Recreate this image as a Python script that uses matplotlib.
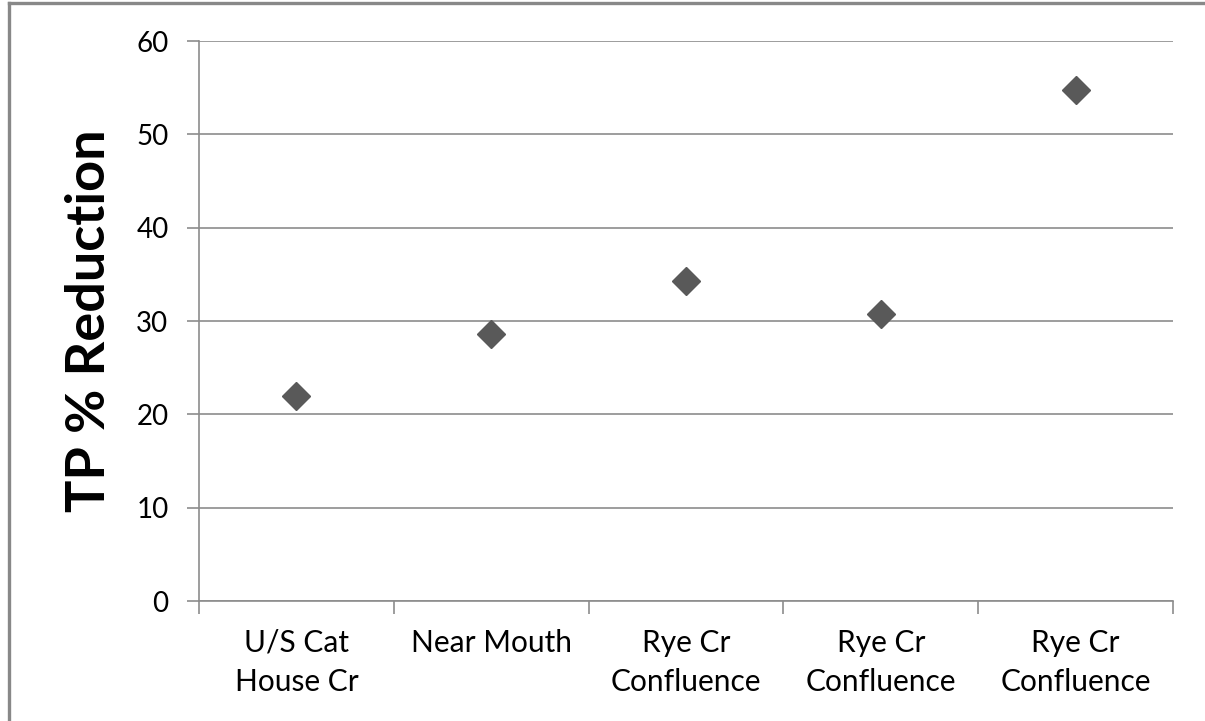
import matplotlib
matplotlib.use("Agg")
import matplotlib.pyplot as plt
from matplotlib.lines import Line2D

# Sampling sites and their total phosphorus reduction (%)
sites = ["U/S Cat\nHouse Cr", "Near Mouth", "Rye Cr\nConfluence", "Rye Cr\nConfluence", "Rye Cr\nConfluence"]
tp_reduction = [22.0, 28.6, 34.3, 30.7, 54.7]
y_ticks = [0, 10, 20, 30, 40, 50, 60]

plt.rcParams["font.family"] = ["Lato", "DejaVu Sans"]

W, H = 1205, 721
fig = plt.figure(figsize=(W / 100, H / 100), dpi=100)
ax = fig.add_axes([199 / W, 1 - 601 / H, (1173 - 199) / W, (601 - 41) / H])

grid_col = "#8c8c8c"
x = list(range(len(sites)))
ax.plot(x, tp_reduction, linestyle="none", marker="D", markersize=14.5,
        color="#595959", markeredgecolor="#595959", zorder=3)

ax.set_xlim(-0.5, len(sites) - 0.5)
ax.set_ylim(0, 60)
ax.set_yticks(y_ticks)
ax.set_yticklabels([str(v) for v in y_ticks])
ax.yaxis.grid(True, color=grid_col, linewidth=1.2)
ax.set_axisbelow(True)

# category boundaries carry the tick marks, centres carry the labels
ax.set_xticks([i - 0.5 for i in range(len(sites) + 1)])
ax.set_xticklabels([])
ax.set_xticks(x, minor=True)
ax.set_xticklabels(sites, minor=True, fontsize=21.5, linespacing=1.5)
ax.tick_params(axis="x", which="major", length=9, width=1.2, color=grid_col, direction="out")
ax.tick_params(axis="x", which="minor", length=0, pad=20)
ax.tick_params(axis="y", length=9, width=1.2, color=grid_col, pad=13, labelsize=20)

for side in ("top", "right"):
    ax.spines[side].set_visible(False)
for side in ("left", "bottom"):
    ax.spines[side].set_color(grid_col)
    ax.spines[side].set_linewidth(1.2)

fig.text(90 / W, 1 - 321 / H, "TP % Reduction", rotation=90, fontsize=39,
         fontweight="bold", ha="center", va="center")

# chart frame
fig.add_artist(Line2D([9 / W, 9 / W], [0, 1 - 3 / H], transform=fig.transFigure,
                      color="#888888", linewidth=2.4))
fig.add_artist(Line2D([9 / W, 1], [1 - 3 / H, 1 - 3 / H], transform=fig.transFigure,
                      color="#888888", linewidth=2.4))

fig.savefig("out.png", dpi=100)
